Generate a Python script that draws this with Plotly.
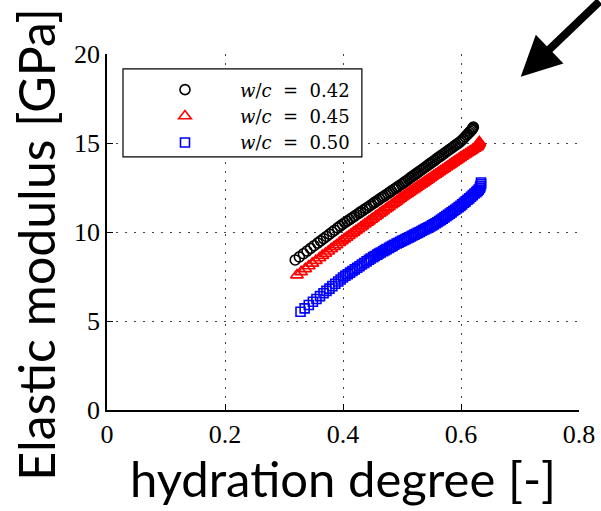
import plotly.graph_objects as go

# ---- data ----
x_042 = [0.319, 0.326, 0.333, 0.339, 0.345, 0.351, 0.357, 0.362, 0.367, 0.372, 0.377, 0.382,
         0.386, 0.391, 0.395, 0.399, 0.403, 0.407, 0.411, 0.415, 0.419, 0.423, 0.427, 0.430,
         0.434, 0.438, 0.441, 0.445, 0.448, 0.452, 0.455, 0.459, 0.462, 0.466, 0.469, 0.472,
         0.476, 0.479, 0.482, 0.486, 0.489, 0.492, 0.495, 0.499, 0.502, 0.505, 0.508, 0.511,
         0.514, 0.517, 0.520, 0.523, 0.526, 0.529, 0.532, 0.535, 0.538, 0.541, 0.544, 0.547,
         0.550, 0.553, 0.556, 0.559, 0.562, 0.565, 0.568, 0.571, 0.574, 0.577, 0.580, 0.583,
         0.586, 0.589, 0.592, 0.595, 0.598, 0.601, 0.604, 0.607, 0.610, 0.612, 0.614, 0.616,
         0.618, 0.619, 0.620, 0.621]
E_042 = [8.43, 8.60, 8.78, 8.93, 9.08, 9.23, 9.38, 9.50, 9.63, 9.75, 9.88, 10.00,
         10.10, 10.23, 10.33, 10.43, 10.52, 10.61, 10.70, 10.79, 10.88, 10.97, 11.06, 11.13,
         11.22, 11.31, 11.37, 11.46, 11.53, 11.62, 11.69, 11.78, 11.85, 11.94, 12.00, 12.07,
         12.16, 12.23, 12.30, 12.39, 12.45, 12.52, 12.59, 12.68, 12.75, 12.82, 12.89, 12.96,
         13.04, 13.11, 13.18, 13.25, 13.32, 13.40, 13.47, 13.54, 13.61, 13.68, 13.76, 13.83,
         13.90, 13.97, 14.04, 14.12, 14.19, 14.26, 14.33, 14.40, 14.48, 14.55, 14.62, 14.69,
         14.76, 14.84, 14.91, 14.98, 15.05, 15.14, 15.24, 15.35, 15.45, 15.52, 15.59, 15.66,
         15.73, 15.78, 15.84, 15.90]

x_045 = [0.322, 0.329, 0.336, 0.342, 0.348, 0.354, 0.360, 0.365, 0.370, 0.375, 0.380, 0.385,
         0.389, 0.394, 0.398, 0.402, 0.406, 0.410, 0.414, 0.418, 0.422, 0.426, 0.430, 0.433,
         0.437, 0.441, 0.444, 0.448, 0.451, 0.455, 0.458, 0.462, 0.465, 0.468, 0.472, 0.475,
         0.478, 0.482, 0.485, 0.488, 0.491, 0.494, 0.497, 0.500, 0.503, 0.506, 0.509, 0.512,
         0.515, 0.518, 0.521, 0.524, 0.527, 0.530, 0.533, 0.536, 0.539, 0.542, 0.545, 0.548,
         0.551, 0.554, 0.557, 0.560, 0.563, 0.566, 0.569, 0.572, 0.575, 0.578, 0.581, 0.584,
         0.587, 0.590, 0.593, 0.596, 0.599, 0.602, 0.605, 0.608, 0.611, 0.614, 0.617, 0.620,
         0.623, 0.625, 0.627, 0.628, 0.629, 0.630, 0.631, 0.631]
E_045 = [7.58, 7.76, 7.93, 8.09, 8.24, 8.39, 8.54, 8.67, 8.79, 8.92, 9.05, 9.17,
         9.27, 9.40, 9.50, 9.60, 9.69, 9.79, 9.89, 9.98, 10.08, 10.17, 10.27, 10.34,
         10.44, 10.53, 10.61, 10.70, 10.77, 10.87, 10.94, 11.04, 11.11, 11.18, 11.28, 11.35,
         11.42, 11.52, 11.59, 11.66, 11.73, 11.81, 11.88, 11.95, 12.02, 12.09, 12.15, 12.22,
         12.29, 12.36, 12.42, 12.49, 12.56, 12.63, 12.69, 12.76, 12.83, 12.90, 12.96, 13.03,
         13.10, 13.17, 13.23, 13.30, 13.37, 13.44, 13.50, 13.57, 13.64, 13.71, 13.77, 13.84,
         13.91, 13.98, 14.04, 14.11, 14.18, 14.24, 14.31, 14.37, 14.44, 14.50, 14.56, 14.63,
         14.69, 14.74, 14.78, 14.82, 14.88, 14.94, 15.00, 15.06]

x_050 = [0.328, 0.335, 0.342, 0.349, 0.355, 0.361, 0.367, 0.372, 0.377, 0.382, 0.387, 0.392,
         0.396, 0.400, 0.404, 0.408, 0.412, 0.416, 0.420, 0.424, 0.428, 0.432, 0.436, 0.440,
         0.444, 0.447, 0.451, 0.454, 0.458, 0.461, 0.464, 0.468, 0.471, 0.474, 0.478, 0.481,
         0.484, 0.487, 0.491, 0.494, 0.497, 0.500, 0.503, 0.506, 0.509, 0.512, 0.515, 0.518,
         0.521, 0.524, 0.527, 0.530, 0.533, 0.536, 0.539, 0.542, 0.545, 0.548, 0.551, 0.554,
         0.557, 0.560, 0.563, 0.566, 0.569, 0.572, 0.575, 0.578, 0.581, 0.584, 0.587, 0.590,
         0.593, 0.596, 0.599, 0.602, 0.605, 0.608, 0.611, 0.614, 0.617, 0.620, 0.623, 0.626,
         0.628, 0.630, 0.632, 0.633, 0.634, 0.634]
E_050 = [5.52, 5.71, 5.90, 6.08, 6.24, 6.40, 6.56, 6.69, 6.82, 6.96, 7.09, 7.22,
         7.33, 7.44, 7.54, 7.63, 7.72, 7.81, 7.90, 7.99, 8.08, 8.17, 8.26, 8.35,
         8.44, 8.51, 8.59, 8.65, 8.73, 8.79, 8.85, 8.92, 8.98, 9.04, 9.11, 9.17,
         9.22, 9.28, 9.35, 9.40, 9.45, 9.50, 9.55, 9.60, 9.65, 9.70, 9.75, 9.80,
         9.85, 9.90, 9.95, 10.00, 10.06, 10.11, 10.16, 10.21, 10.26, 10.31, 10.37, 10.43,
         10.49, 10.55, 10.62, 10.68, 10.75, 10.82, 10.89, 10.96, 11.03, 11.10, 11.18, 11.25,
         11.32, 11.40, 11.47, 11.55, 11.64, 11.72, 11.81, 11.89, 11.98, 12.07, 12.16, 12.24,
         12.30, 12.38, 12.48, 12.58, 12.68, 12.78]

series_names = ["<i>w</i>/<i>c</i>&nbsp;&nbsp;=&nbsp;&nbsp;0.42",
                "<i>w</i>/<i>c</i>&nbsp;&nbsp;=&nbsp;&nbsp;0.45",
                "<i>w</i>/<i>c</i>&nbsp;&nbsp;=&nbsp;&nbsp;0.50"]
x_title = "hydration degree [-]"
y_title = "Elastic modulus [GPa]"
x_ticks = [0, 0.2, 0.4, 0.6, 0.8]
x_tick_text = ["0", "0.2", "0.4", "0.6", "0.8"]
y_ticks = [0, 5, 10, 15, 20]
y_tick_text = ["0", "5", "10", "15", "20"]

SERIF = "Liberation Serif"
SANS = "Lato"

fig = go.Figure()
fig.add_trace(go.Scatter(x=x_042, y=E_042, mode="markers", name=series_names[0],
                         marker=dict(symbol="circle-open", size=10, color="black",
                                     line=dict(width=1.6, color="black"))))
fig.add_trace(go.Scatter(x=x_045, y=E_045, mode="markers", name=series_names[1],
                         marker=dict(symbol="triangle-up-open", size=11, color="#ff0000",
                                     line=dict(width=1.6, color="#ff0000"))))
fig.add_trace(go.Scatter(x=x_050, y=E_050, mode="markers", name=series_names[2],
                         marker=dict(symbol="square-open", size=9, color="#0000ff",
                                     line=dict(width=1.6, color="#0000ff"))))

grid_style = dict(showgrid=True, gridcolor="#444444", griddash="2px,7px", gridwidth=1)

fig.update_xaxes(range=[0, 0.8], tickvals=x_ticks, ticktext=x_tick_text,
                 showline=True, linecolor="black", linewidth=1.5, mirror=False,
                 ticks="inside", ticklen=6, tickcolor="black", tickwidth=1,
                 zeroline=False,
                 tickfont=dict(family=SERIF, size=26, color="black"),
                 title=dict(text=x_title, font=dict(family=SANS, size=49, color="black"),
                            standoff=3),
                 automargin=False, **grid_style)
fig.update_yaxes(range=[0, 20], tickvals=y_ticks, ticktext=y_tick_text,
                 showline=True, linecolor="black", linewidth=1.5, mirror=False,
                 ticks="inside", ticklen=6, tickcolor="black", tickwidth=1,
                 zeroline=False,
                 tickfont=dict(family=SERIF, size=26, color="black"),
                 automargin=False, **grid_style)

# legend box
fig.add_shape(type="rect", xref="paper", yref="paper",
              x0=0.0339, x1=0.540, y0=0.711, y1=0.958,
              line=dict(color="black", width=1.2), fillcolor="white", layer="above")

fig.update_layout(
    width=601, height=511,
    margin=dict(l=107, r=22, t=54, b=101),
    paper_bgcolor="white", plot_bgcolor="white",
    showlegend=True,
    legend=dict(x=0.0487, y=0.951, xanchor="left", yanchor="top",
                bgcolor="rgba(0,0,0,0)", borderwidth=0, itemwidth=100,
                font=dict(family="DejaVu Serif", size=18, color="black"),
                tracegroupgap=0),
    annotations=[
        dict(x=0.7012, y=18.72, xref="x", yref="y", ax=89, ay=-87,
             text="", showarrow=True, arrowhead=2, arrowsize=1, arrowwidth=8,
             arrowcolor="black", standoff=0),
        # y-axis title
        dict(x=-0.15, y=0.465, xref="paper", yref="paper", text=y_title,
             textangle=-90, showarrow=False, xanchor="center", yanchor="middle",
             font=dict(family=SANS, size=50, color="black")),
    ],
)

fig.write_html("out.html", config={"displayModeBar": False})
